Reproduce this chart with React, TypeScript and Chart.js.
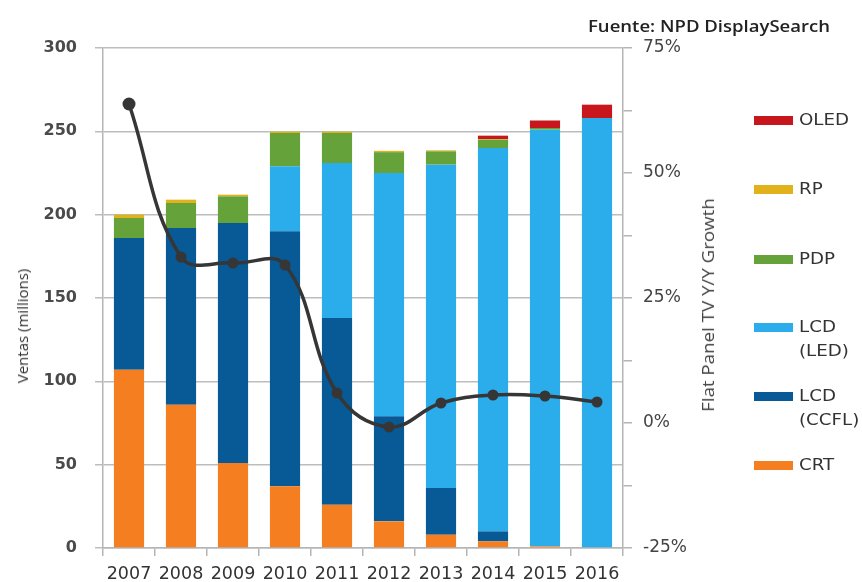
import React, { useEffect, useRef } from 'react';
import { Chart, registerables } from 'chart.js';

Chart.register(...registerables);

const years = ['2007', '2008', '2009', '2010', '2011', '2012', '2013', '2014', '2015', '2016'];
const crt = [107, 86, 51, 37, 26, 16, 8, 4, 1, 0];
const ccfl = [79, 106, 144, 153, 112, 63, 28, 6, 0, 0];
const led = [0, 0, 0, 39, 93, 146, 194, 230, 250, 258];
const pdp = [12, 15, 16, 20, 18, 12.5, 8, 5, 1, 0];
const rp = [2, 2, 1, 0.8, 0.8, 0.8, 0.6, 0.4, 0, 0];
const oled = [0, 0, 0, 0, 0, 0, 0, 2, 4.5, 8];
const growth = [63.8, 33.2, 32, 31.6, 6, -0.8, 4, 5.6, 5.4, 4.2];

const leftTicks = [0, 50, 100, 150, 200, 250, 300];

const COLORS = {
  oled: '#C8161D',
  rp: '#E2B21C',
  pdp: '#66A23A',
  led: '#2BADEC',
  ccfl: '#075A96',
  crt: '#F47E20',
};

const legendItems = [
  { label: ['OLED'], color: COLORS.oled, y: 120 },
  { label: ['RP'], color: COLORS.rp, y: 189 },
  { label: ['PDP'], color: COLORS.pdp, y: 259 },
  { label: ['LCD', '(LED)'], color: COLORS.led, y: 327 },
  { label: ['LCD', '(CCFL)'], color: COLORS.ccfl, y: 396 },
  { label: ['CRT'], color: COLORS.crt, y: 465 },
];

export default function App() {
  const ref = useRef<HTMLCanvasElement | null>(null);

  useEffect(() => {
    if (!ref.current) return;
    const bar = (label: string, data: number[], color: string) => ({
      type: 'bar' as const,
      label,
      data,
      backgroundColor: color,
      borderWidth: 0,
      yAxisID: 'y',
      stack: 's',
      order: 2,
      barPercentage: 0.58,
      categoryPercentage: 1,
    });
    const chart = new Chart(ref.current, {
      type: 'bar',
      data: {
        labels: years,
        datasets: [
          {
            type: 'line' as const,
            label: 'Growth',
            data: growth,
            yAxisID: 'y1',
            borderColor: '#363636',
            backgroundColor: '#363636',
            borderWidth: 3.5,
            tension: 0.4,
            pointRadius: [6.5, 5.5, 5.5, 5.5, 5.5, 5.5, 5.5, 5.5, 5.5, 5.5],
            pointBackgroundColor: '#363636',
            pointBorderWidth: 0,
            order: 0,
          } as any,
          bar('CRT', crt, COLORS.crt),
          bar('LCD (CCFL)', ccfl, COLORS.ccfl),
          bar('LCD (LED)', led, COLORS.led),
          bar('PDP', pdp, COLORS.pdp),
          bar('RP', rp, COLORS.rp),
          bar('OLED', oled, COLORS.oled),
        ],
      },
      options: {
        animation: false,
        responsive: false,
        maintainAspectRatio: false,
        layout: { padding: { top: 48, left: 0, right: 0, bottom: 0 } },
        plugins: {
          legend: { display: false },
          tooltip: { enabled: false },
          title: { display: false },
        },
        scales: {
          x: {
            stacked: true,
            afterFit: (s: any) => { s.height = 34; },
            grid: {
              offset: true,
              drawOnChartArea: false,
              color: '#b5b5b5',
              lineWidth: 1.5,
              tickLength: 8,
            },
            border: { color: '#b5b5b5', width: 1.5 },
            ticks: {
              color: '#333',
              padding: 8,
              font: { family: 'DejaVu Sans', size: 17.5 },
              maxRotation: 0,
            },
          },
          y: {
            stacked: true,
            position: 'left',
            min: 0,
            max: 300,
            afterFit: (s: any) => { s.width = 103; },
            afterBuildTicks: (s: any) => { s.ticks = leftTicks.map((v) => ({ value: v })); },
            grid: { color: '#bdbdbd', lineWidth: 1.5, tickLength: 8 },
            border: { color: '#b5b5b5', width: 1.5 },
            ticks: {
              color: '#4a4a4a',
              padding: 18,
              font: { family: 'DejaVu Sans', size: 16, weight: 'bold' },
            },
          },
          y1: {
            position: 'right',
            min: -25,
            max: 75,
            afterFit: (s: any) => { s.width = 239; },
            grid: { drawOnChartArea: false, color: '#b5b5b5', lineWidth: 1.5, tickLength: 9 },
            border: { color: '#b5b5b5', width: 1.5 },
            ticks: {
              stepSize: 12.5,
              color: '#444',
              padding: 11,
              font: { family: 'DejaVu Sans', size: 17 },
              callback: (v: any) => (Number(v) % 25 === 0 ? `${v}%` : ''),
            },
          },
        },
      } as any,
    });
    return () => chart.destroy();
  }, []);

  return (
    <div style={{ position: 'fixed', left: 0, top: 0, width: 862, height: 582, background: '#fff' }}>
      <canvas ref={ref} width={862} height={582} style={{ position: 'absolute', left: 0, top: 0, width: 862, height: 582 }} />
      <div
        style={{
          position: 'absolute',
          left: 588,
          top: 14,
          fontFamily: 'Open Sans',
          fontWeight: 600,
          fontSize: 17,
          lineHeight: '24px',
          color: '#222',
          whiteSpace: 'nowrap',
          transform: 'scaleX(1.09)',
          transformOrigin: 'left center',
        }}
      >
        Fuente: NPD DisplaySearch
      </div>
      <div
        style={{
          position: 'absolute',
          left: 22,
          top: 326,
          transform: 'translate(-50%, -50%) rotate(-90deg)',
          fontFamily: 'Open Sans',
          fontSize: 15,
          color: '#333',
          whiteSpace: 'nowrap',
        }}
      >
        Ventas (millions)
      </div>
      <div
        style={{
          position: 'absolute',
          left: 708,
          top: 305,
          transform: 'translate(-50%, -50%) rotate(-90deg) scaleX(1.17)',
          fontFamily: 'Open Sans',
          fontSize: 16,
          color: '#444',
          whiteSpace: 'nowrap',
        }}
      >
        Flat Panel TV Y/Y Growth
      </div>
      {legendItems.map((it) => (
        <div key={it.label.join(' ')}>
          <div
            style={{
              position: 'absolute',
              left: 754,
              top: it.y - 4.5,
              width: 39,
              height: 9,
              background: it.color,
            }}
          />
          <div
            style={{
              position: 'absolute',
              left: 799,
              top: it.y - 12,
              fontFamily: 'DejaVu Sans',
              fontSize: 16,
              lineHeight: '24px',
              color: '#333',
              whiteSpace: 'nowrap',
              transform: 'scaleX(1.14)',
              transformOrigin: 'left center',
            }}
          >
            {it.label.map((l) => (
              <div key={l}>{l}</div>
            ))}
          </div>
        </div>
      ))}
    </div>
  );
}
